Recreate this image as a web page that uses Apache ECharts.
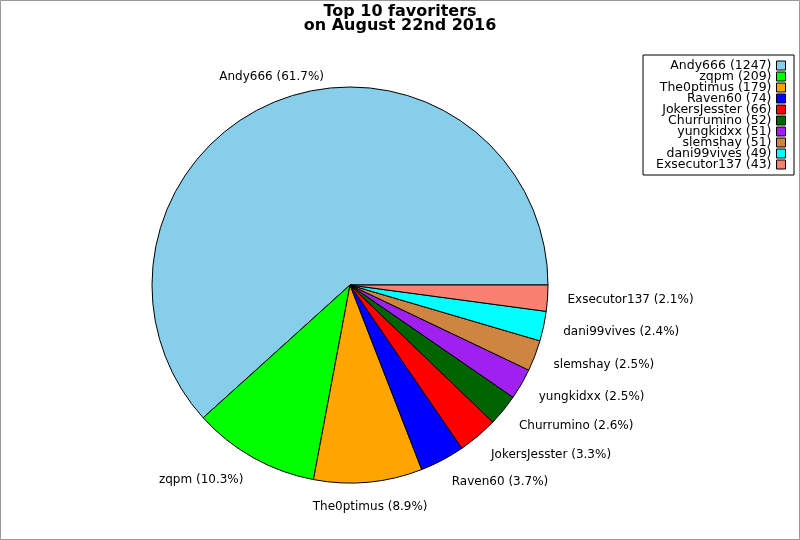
<!DOCTYPE html>
<html lang="en">
<head>
    <meta charset="UTF-8">
    <title>Top 10 favoriters</title>
    <script src="https://cdn.jsdelivr.net/npm/echarts@6/dist/echarts.min.js"></script>
    <style>
        *{
            margin: 0;
            padding: 0;
        }
        html, body{
            width: 100%;
            height: 100%;
            overflow: hidden;
            background: #fff;
        }
        .container{
            width: 800px;
            height: 540px;
        }
    </style>
</head>
<body>
<div class="container"></div>
<script>
    let names=['Andy666','zqpm','The0ptimus','Raven60','JokersJesster','Churrumino','yungkidxx','slemshay','dani99vives','Exsecutor137'];
    let counts=[1247,209,179,74,66,52,51,51,49,43];
    let colors=['#87CEEB','#00FF00','#FFA500','#0000FF','#FF0000','#006400','#A020F0','#CD853F','#00FFFF','#FA8072'];

    let total=counts.reduce((a,b)=>a+b,0);
    // mid angle of each slice, counter-clockwise from east
    let midAngles=[];
    let acc=0;
    counts.forEach(v=>{
        midAngles.push((acc+v/2)/total*2*Math.PI);
        acc+=v;
    });

    let countOf={};
    names.forEach((n,i)=>countOf[n]=counts[i]);

    let container=document.querySelector('.container');
    let mycharts=echarts.init(container);
    let font='DejaVu Sans';

    let options={
        backgroundColor:'#fff',
        animation:false,
        title:{
            text:'Top 10 favoriters\non August 22nd 2016',
            left:'center',
            top:0,
            textStyle:{
                fontFamily:font,
                fontWeight:'bold',
                fontSize:16,
                lineHeight:14,
                color:'#000'
            }
        },
        legend:{
            orient:'vertical',
            right:6,
            top:55,
            align:'right',
            itemWidth:9,
            itemHeight:9,
            itemGap:-2,
            padding:[4,8,4,13],
            borderColor:'#000',
            borderWidth:1,
            icon:'rect',
            itemStyle:{borderColor:'#000',borderWidth:1},
            textStyle:{fontFamily:font,fontSize:12.5,lineHeight:10,color:'#000'},
            formatter:function(name){
                return name+' ('+countOf[name]+')';
            },
            data:names
        },
        graphic:[{
            type:'rect',
            shape:{x:0.5,y:0.5,width:799,height:539},
            style:{fill:'none',stroke:'#999',lineWidth:1},
            silent:true
        }],
        series:[{
            type:'pie',
            center:[350,285],
            radius:198,
            startAngle:0,
            clockwise:false,
            avoidLabelOverlap:false,
            color:colors,
            itemStyle:{borderColor:'#000',borderWidth:1},
            label:{
                position:'outside',
                fontFamily:font,
                fontSize:12,
                color:'#000',
                distanceToLabelLine:0,
                formatter:function(p){
                    return p.name+' ('+(p.value/total*100).toFixed(1)+'%)';
                }
            },
            labelLine:{show:false,length:20,length2:0},
            labelLayout:function(params){
                let a=midAngles[params.dataIndex];
                let r=params.labelRect;
                let out={y:r.y+r.height/2-5*Math.sin(a)};
                if (Math.abs(Math.cos(a))<0.4){
                    out.x=Math.cos(a)>0?r.x:r.x+r.width;
                    out.align='center';
                }
                return out;
            },
            emphasis:{disabled:true},
            data:names.map((n,i)=>({name:n,value:counts[i]}))
        }]
    };

    mycharts.setOption(options);
</script>
</body>
</html>
